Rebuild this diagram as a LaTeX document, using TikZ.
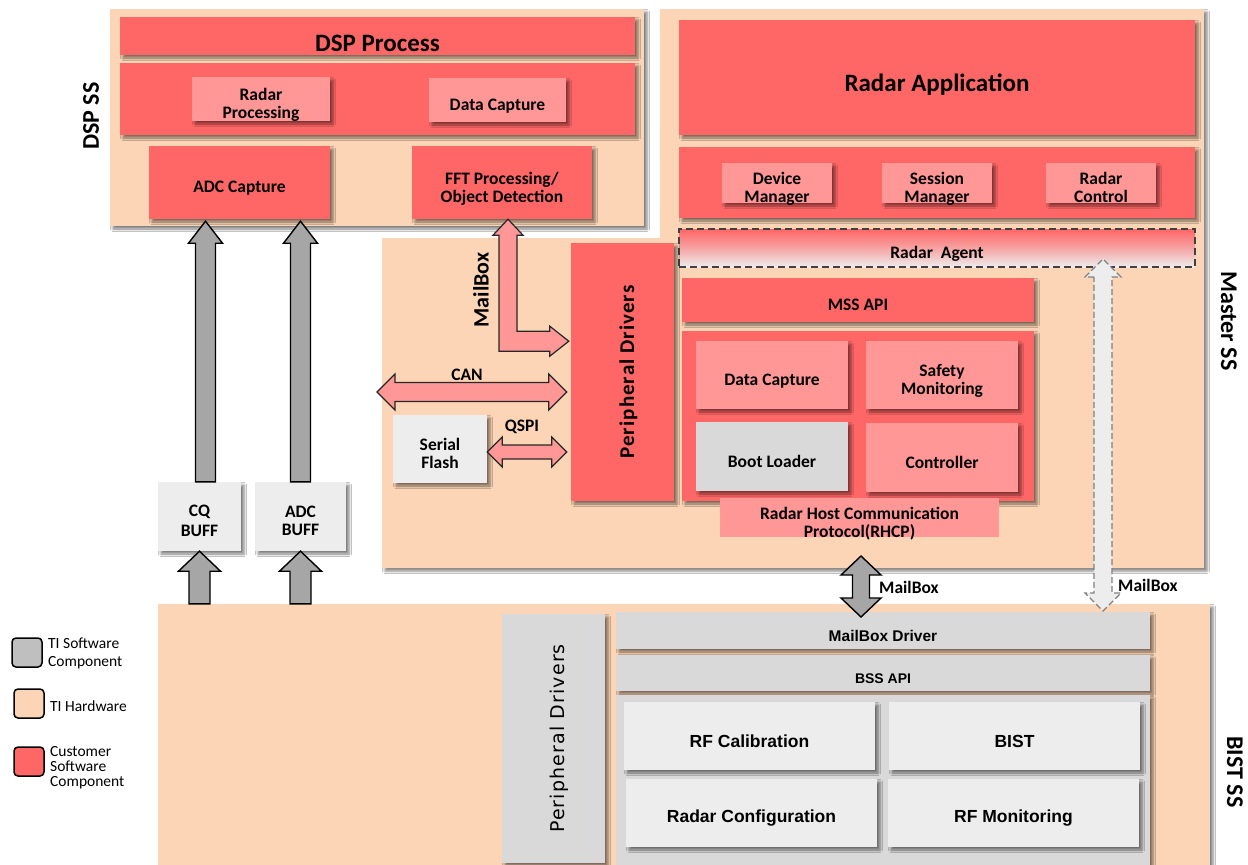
\documentclass[tikz,border=0pt]{standalone}
\usepackage{fontspec}
\usepackage{graphicx}
\setmainfont{Carlito}
\newfontfamily\arialf{Liberation Sans}
\newfontfamily\verdf[LetterSpace=6]{DejaVu Sans}
\newfontfamily\carlsp[LetterSpace=5]{Carlito}
\usetikzlibrary{shadows.blur,calc}
\definecolor{cred}{HTML}{FF6666}
\definecolor{lred}{HTML}{FF9797}
\definecolor{peach}{HTML}{FBD5B5}
\definecolor{mgray}{HTML}{D9D9D9}
\definecolor{lgray}{HTML}{EDEDED}
\definecolor{agray}{HTML}{A6A6A6}
\definecolor{leggray}{HTML}{BFBFBF}
\tikzset{
  every node/.style={inner sep=0pt, align=center, text=black},
  shad/.style={blur shadow={shadow xshift=3pt, shadow yshift=-3pt, shadow blur radius=2.5pt, shadow opacity=50}},
  hw/.style={fill=peach, shad},
  redbox/.style={fill=cred, shad},
  ltred/.style={fill=lred, shad},
  grbox/.style={fill=mgray, shad},
  ltbox/.style={fill=lgray, shad},
  bigt/.style={font=\fontsize{25}{27}\selectfont\bfseries, yshift=-7pt},
  sidet/.style={font=\fontsize{24}{26}\selectfont\bfseries},
  mt/.style={font=\fontsize{17.5}{18}\selectfont\bfseries, yshift=-6pt},
  mt5/.style={font=\fontsize{17.5}{18}\selectfont\bfseries, yshift=-4.5pt},
  lbl/.style={font=\fontsize{17.5}{18}\selectfont\bfseries},
  bistt/.style={font=\fontsize{17.5}{19}\selectfont\arialf\bfseries, yshift=-5pt},
  bists/.style={font=\fontsize{15.5}{17}\selectfont\arialf\bfseries, yshift=-5.5pt},
  legt/.style={font=\fontsize{15.5}{18}\selectfont, align=left, anchor=west},
  legbox/.style={draw=black, line width=1.5pt, rounded corners=4pt},
  garr/.style={fill=agray, draw=black, line width=1.4pt, line join=miter},
  rarr/.style={fill=lred, draw=black!85, line width=1.2pt, line join=miter},
  darr/.style={fill=lgray, draw=gray, dashed, dash pattern=on 6pt off 3pt, line width=1.2pt, line join=miter},
}
% box from pixel corners
\newcommand\bx[6]{\node[#1, minimum width={(#4-#2)*1pt}, minimum height={(#5-#3)*1pt}] (#6) at ({(#2+#4)/2},{(#3+#5)/2}) {};}
% box with its text
\newcommand\bxt[8]{\bx{#1}{#2}{#3}{#4}{#5}{#6}\node[#7] (#6-t) at (#6.center) {#8};}
% vertical single arrow: style, tail, tip, shaft half, head half, head length
\newcommand\varrow[6]{\draw[#1] let \p1=(#2), \p2=(#3), \n1={sign(\y2-\y1)} in
  (\x2-#4,\y1) -- (\x2-#4,\y2-\n1*#6) -- (\x2-#5,\y2-\n1*#6) -- (\x2,\y2) -- (\x2+#5,\y2-\n1*#6) -- (\x2+#4,\y2-\n1*#6) -- (\x2+#4,\y1) -- cycle;}
% vertical double arrow
\newcommand\vdarrow[6]{\draw[#1] let \p1=(#2), \p2=(#3), \n1={sign(\y2-\y1)} in
  (\x1-#4,\y1+\n1*#6) -- (\x1-#5,\y1+\n1*#6) -- (\x1,\y1) -- (\x1+#5,\y1+\n1*#6) -- (\x1+#4,\y1+\n1*#6) --
  (\x1+#4,\y2-\n1*#6) -- (\x1+#5,\y2-\n1*#6) -- (\x1,\y2) -- (\x1-#5,\y2-\n1*#6) -- (\x1-#4,\y2-\n1*#6) -- cycle;}
% horizontal double arrow
\newcommand\hdarrow[6]{\draw[#1] let \p1=(#2), \p2=(#3), \n1={sign(\x2-\x1)} in
  (\x1+\n1*#6,\y1-#4) -- (\x1+\n1*#6,\y1-#5) -- (\x1,\y1) -- (\x1+\n1*#6,\y1+#5) -- (\x1+\n1*#6,\y1+#4) --
  (\x2-\n1*#6,\y1+#4) -- (\x2-\n1*#6,\y1+#5) -- (\x2,\y1) -- (\x2-\n1*#6,\y1-#5) -- (\x2-\n1*#6,\y1-#4) -- cycle;}
\begin{document}
\begin{tikzpicture}[x=1pt,y=-1pt]
\useasboundingbox (0,0) rectangle (1248,865);
\fill[white] (0,0) rectangle (1248,865);

% ---------------- hardware blocks ----------------
\bx{hw}{110}{9}{644}{226}{dspss}
\fill[peach, shad] (382,238) -- (660,238) -- (660,9) -- (1204,9) -- (1204,568) -- (382,568) -- cycle;
\bx{hw}{158}{604}{1210}{872}{bistss}

% side labels
\node[sidet, rotate=90] (dsplbl) at (91,116) {DSP SS};
\node[sidet, rotate=-90] (msslbl) at (1229,321) {Master SS};
\node[sidet, rotate=-90] (bistlbl) at (1235,772) {BIST SS};

% ---------------- DSP SS ----------------
\bxt{redbox}{120}{17}{635}{55}{dspproc}{bigt}{DSP Process}
\bx{redbox}{120}{63}{635}{135}{dspbar}
\bxt{ltred}{192}{77}{330}{121}{radproc}{mt}{Radar\\Processing}
\bxt{ltred}{429}{78}{566}{122}{dspdc}{mt}{Data Capture}
\bxt{redbox}{149}{146}{330}{219}{adccap}{mt}{ADC Capture}
\bxt{redbox}{412}{146}{592}{219}{fft}{mt}{FFT Processing/\\Object Detection}

% ---------------- Master SS ----------------
\bxt{redbox}{679}{20}{1195}{135}{radapp}{bigt}{Radar Application}
\bx{redbox}{679}{147}{1195}{218}{mgrbar}
\bxt{ltred}{722}{163}{832}{203}{devmgr}{mt}{Device\\Manager}
\bxt{ltred}{882}{163}{992}{203}{sesmgr}{mt}{Session\\Manager}
\bxt{ltred}{1046}{163}{1156}{203}{radctl}{mt5}{Radar\\Control}
\bxt{draw=black!75, dashed, dash pattern=on 7pt off 4pt, line width=1.1pt, top color=cred, bottom color=lgray, middle color=lgray!45!cred}{679}{229}{1195}{267}{ragent}{mt}{Radar\ \ Agent}
\bx{redbox}{571}{243}{674}{501}{pdm}
\node[rotate=90, font=\fontsize{21}{22}\selectfont\carlsp\bfseries] (pdm-t) at ($(pdm.center)+(6,0)$) {Peripheral Drivers};
\bxt{redbox}{682}{278}{1034}{322}{mssapi}{mt5}{MSS API}
\bx{redbox}{682}{331}{1034}{501}{msscont}
\bxt{ltred}{696}{341}{848}{409}{mdc}{mt}{Data Capture}
\bxt{ltred}{866}{341}{1018}{409}{safety}{mt}{Safety\\Monitoring}
\bxt{grbox}{696}{422}{848}{491}{boot}{mt5}{Boot Loader}
\bxt{ltred}{866}{423}{1018}{492}{ctrl}{mt5}{Controller}
\bxt{fill=lred}{720}{498}{999}{537}{rhcp}{mt}{Radar Host Communication\\Protocol(RHCP)}
\bxt{ltbox}{393}{415}{487}{483}{sflash}{mt5}{Serial\\Flash}

% ---------------- buffers ----------------
\bxt{ltbox}{158}{482}{241}{551}{cq}{mt5}{CQ\\[1.5pt]BUFF}
\bxt{ltbox}{255}{482}{346}{551}{adcbuf}{mt5}{ADC\\BUFF}

% ---------------- BIST SS ----------------
\bx{grbox}{502}{614}{605}{863}{pdb}
\node[rotate=90, font=\fontsize{19}{20}\selectfont\verdf] (pdb-t) at ($(pdb.center)+(6,0)$) {Peripheral Drivers};
\bxt{grbox}{616}{612}{1150}{649}{mbdrv}{bists}{MailBox Driver}
\bxt{grbox}{616}{655}{1150}{691}{bssapi}{bists, font=\fontsize{14}{16}\selectfont\arialf\bfseries}{BSS API}
\bx{grbox}{616}{695}{1150}{880}{bistcont}
\bxt{ltbox}{624}{702}{875}{770}{rfcal}{bistt}{RF Calibration}
\bxt{ltbox}{889}{702}{1140}{770}{bist}{bistt}{BIST}
\bxt{ltbox}{626}{779}{877}{847}{radcfg}{bistt}{Radar Configuration}
\bxt{ltbox}{888}{779}{1139}{847}{rfmon}{bistt}{RF Monitoring}

% ---------------- connectors ----------------
% BIST -> buffers
\coordinate (b1) at (bistss.north -| cq.south);
\coordinate (b2) at (bistss.north -| adcbuf.south);
\varrow{garr}{b1}{cq.south}{10.5pt}{21pt}{20pt}
\varrow{garr}{b2}{adcbuf.south}{10.5pt}{21pt}{20pt}
% buffers -> ADC capture
\coordinate (c1) at ($(cq.north)+(6,0)$);
\coordinate (c1t) at ($(c1 |- adccap.south)+(0,2)$);
\coordinate (c2) at (adcbuf.north);
\coordinate (c2t) at ($(c2 |- adccap.south)+(0,2)$);
\varrow{garr}{c1}{c1t}{10pt}{17pt}{22pt}
\varrow{garr}{c2}{c2t}{10pt}{17pt}{22pt}

% MailBox L arrow FFT <-> Peripheral Drivers
\coordinate (lt) at ($(fft.south)+(6,0)$);
\coordinate (rt) at (pdm.west |- mssapi.south);
\coordinate (rt2) at ($(rt)+(-2,19)$);
\draw[rarr] let \p1=(lt), \p2=(rt2) in
  (\x1,\y1) -- (\x1+15pt,\y1-16pt) -- (\x1+9pt,\y1-16pt) -- (\x1+9pt,\y2+10pt) -- (\x2-19pt,\y2+10pt) -- (\x2-19pt,\y2+15pt) -- (\x2,\y2)
  -- (\x2-19pt,\y2-15pt) -- (\x2-19pt,\y2-10pt) -- (\x1-9pt,\y2-10pt) -- (\x1-9pt,\y1-16pt) -- (\x1-15pt,\y1-16pt) -- cycle;
\node[font=\fontsize{22}{23}\selectfont\bfseries, rotate=90] (mblbl1) at (481,290) {MailBox};

% CAN
\coordinate (canl) at (377,392);
\coordinate (canr) at ($(pdm.west |- canl)+(-4,0)$);
\hdarrow{rarr}{canl}{canr}{9.5pt}{18pt}{18pt}
\node[lbl] (canlbl) at (467,375) {CAN};
% QSPI
\coordinate (qr) at ($(pdm.west)+(-4,0)$);
\coordinate (qspil) at ($(sflash.east)+(0,3)$);
\coordinate (qspir) at (qr |- qspil);
\hdarrow{rarr}{qspil}{qspir}{7pt}{15pt}{15pt}
\node[lbl] (qspilbl) at (522,427) {QSPI};

% MailBox master <-> BIST
\coordinate (m1) at (861,556);
\coordinate (m2) at (861,617);
\vdarrow{garr}{m1}{m2}{8.5pt}{20pt}{19pt}
\node[lbl, anchor=west] (mblbl2) at (879,587) {MailBox};
% dashed MailBox Radar Agent <-> BIST
\coordinate (d1) at (1103,259);
\coordinate (d2) at (1103,611);
\vdarrow{darr}{d1}{d2}{9pt}{18pt}{18pt}
\node[lbl, anchor=west] (mblbl3) at (1118,585) {MailBox};

% ---------------- legend ----------------
\bx{legbox, fill=leggray}{12}{638}{42}{667}{lg1}
\node[legt] (lgt1) at (48,653) {TI Software\\Component};
\bx{legbox, fill=peach}{14}{689}{44}{718}{lg2}
\node[legt] (lgt2) at (50,706) {TI Hardware};
\bx{legbox, fill=cred}{14}{747}{44}{776}{lg3}
\node[legt, font=\fontsize{15.5}{15}\selectfont] (lgt3) at (50,768) {Customer\\Software\\Component};
\end{tikzpicture}
\end{document}
